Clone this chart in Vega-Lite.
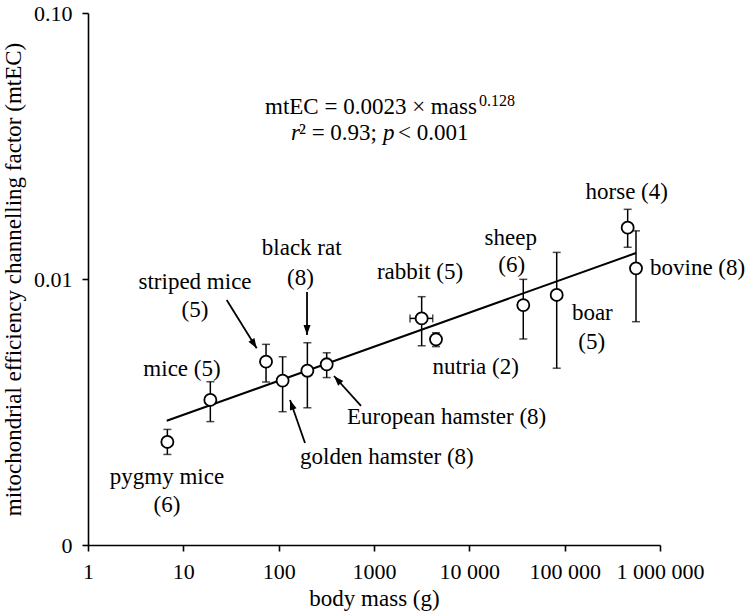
{
  "$schema": "https://vega.github.io/schema/vega-lite/v6.json",
  "width": 572,
  "height": 532,
  "autosize": {"type": "none"},
  "padding": {"left": 88, "top": 13, "right": 86, "bottom": 70},
  "background": "white",
  "config": {
    "view": {"stroke": null},
    "font": "Liberation Serif",
    "axis": {
      "grid": false,
      "domainColor": "black",
      "domainWidth": 1.6,
      "tickColor": "black",
      "tickWidth": 1.6,
      "tickSize": 6,
      "labelColor": "black",
      "labelFont": "Liberation Serif",
      "labelFontSize": 22,
      "labelPadding": 10,
      "titleColor": "black",
      "titleFont": "Liberation Serif",
      "titleFontSize": 23,
      "titleFontWeight": "normal"
    }
  },
  "datasets": {
    "species": [
      {"species": "pygmy mice", "mass": 6.8, "mtec": 0.00244, "lo": 0.00219, "hi": 0.00272},
      {"species": "mice", "mass": 19.2, "mtec": 0.00351, "lo": 0.00291, "hi": 0.00411},
      {"species": "striped mice", "mass": 73.7, "mtec": 0.00489, "lo": 0.0041, "hi": 0.00568},
      {"species": "golden hamster", "mass": 110, "mtec": 0.00415, "lo": 0.00317, "hi": 0.0051},
      {"species": "black rat", "mass": 200, "mtec": 0.00452, "lo": 0.00328, "hi": 0.00576},
      {"species": "European hamster", "mass": 319, "mtec": 0.00478, "lo": 0.00426, "hi": 0.00528},
      {"species": "rabbit", "mass": 3162, "mtec": 0.00711, "lo": 0.00561, "hi": 0.00858},
      {"species": "nutria", "mass": 4470, "mtec": 0.00593, "lo": 0.00557, "hi": 0.00628},
      {"species": "sheep", "mass": 36800, "mtec": 0.00798, "lo": 0.00595, "hi": 0.00997},
      {"species": "boar", "mass": 82500, "mtec": 0.00871, "lo": 0.00462, "hi": 0.01259},
      {"species": "horse", "mass": 458000, "mtec": 0.01559, "lo": 0.01316, "hi": 0.01828},
      {"species": "bovine", "mass": 560000, "mtec": 0.01097, "lo": 0.00691, "hi": 0.01517}
    ],
    "hbar": [
      {"species": "rabbit", "mass_lo": 2387, "mass_hi": 4130, "mtec": 0.00711}
    ],
    "fit": [
      {"mass": 6.7, "mtec": 0.00293},
      {"mass": 560000, "mtec": 0.01252}
    ],
    "arrows": [
      {"name": "striped mice", "x1": 28.5, "y1": 0.00834, "x2": 58.84, "y2": 0.005489},
      {"name": "black rat", "x1": 198.3, "y1": 0.008934, "x2": 198.3, "y2": 0.006161},
      {"name": "European hamster", "x1": 730.6, "y1": 0.003332, "x2": 380.6, "y2": 0.004318},
      {"name": "golden hamster", "x1": 188.9, "y1": 0.002418, "x2": 131.5, "y2": 0.003508}
    ],
    "labels_c": [
      {"label": "pygmy mice", "x": 6.74, "y": 0.001806},
      {"label": "(6)", "x": 6.74, "y": 0.001414},
      {"label": "mice (5)", "x": 9.68, "y": 0.004589},
      {"label": "striped mice", "x": 13.26, "y": 0.009768},
      {"label": "(5)", "x": 13.26, "y": 0.007679},
      {"label": "black rat", "x": 174.5, "y": 0.01304},
      {"label": "(8)", "x": 169.4, "y": 0.01006},
      {"label": "rabbit (5)", "x": 3038, "y": 0.010651},
      {"label": "nutria (2)", "x": 11660, "y": 0.004681},
      {"label": "sheep", "x": 27160, "y": 0.01422},
      {"label": "(6)", "x": 27820, "y": 0.011289},
      {"label": "boar", "x": 195000, "y": 0.00743},
      {"label": "(5)", "x": 192100, "y": 0.005812},
      {"label": "horse (4)", "x": 447600, "y": 0.02129}
    ],
    "labels_l": [
      {"label": "bovine (8)", "x": 785800, "y": 0.010967},
      {"label": "European hamster (8)", "x": 521, "y": 0.00302},
      {"label": "golden hamster (8)", "x": 167.4, "y": 0.002148}
    ],
    "eq_normal": [
      {"t": "mtEC = 0.0023 × mass", "x": 71.9, "y": 0.04432},
      {"t": "² = 0.93;", "x": 163.4, "y": 0.03539},
      {"t": "< 0.001", "x": 1785, "y": 0.03539}
    ],
    "eq_italic": [
      {"t": "r", "x": 134.6, "y": 0.03539},
      {"t": "p", "x": 1243, "y": 0.03539}
    ],
    "eq_sup": [
      {"t": "0.128", "x": 12630, "y": 0.04668}
    ]
  },
  "layer": [
    {
      "data": {"name": "species"},
      "mark": {"type": "rule", "color": "black", "strokeWidth": 1.5},
      "encoding": {
        "x": {"field": "mass", "type": "quantitative", "scale": {"type": "log", "domain": [1, 1000000], "nice": false}, "axis": {"title": "body mass (g)", "values": [1, 10, 100, 1000, 10000, 100000, 1000000], "labelExpr": "datum.value == 10000 ? '10 000' : datum.value == 100000 ? '100 000' : datum.value == 1000000 ? '1 000 000' : format(datum.value, 'd')", "titlePadding": 5, "labelFlush": false, "labelOverlap": false}},
        "y": {"field": "lo", "type": "quantitative", "scale": {"type": "log", "domain": [0.001, 0.1], "nice": false}, "axis": {"title": "mitochondrial efficiency channelling factor (mtEC)", "values": [0.001, 0.01, 0.1], "labelExpr": "datum.value < 0.005 ? '0' : datum.value < 0.05 ? '0.01' : '0.10'", "titlePadding": 8, "labelFlush": false, "labelOverlap": false}},
        "y2": {"field": "hi"}
      }
    },
    {
      "data": {"name": "species"},
      "mark": {"type": "tick", "orient": "horizontal", "color": "black", "size": 8, "thickness": 1.5},
      "encoding": {
        "x": {"field": "mass", "type": "quantitative"},
        "y": {"field": "lo", "type": "quantitative"}
      }
    },
    {
      "data": {"name": "species"},
      "mark": {"type": "tick", "orient": "horizontal", "color": "black", "size": 8, "thickness": 1.5},
      "encoding": {
        "x": {"field": "mass", "type": "quantitative"},
        "y": {"field": "hi", "type": "quantitative"}
      }
    },
    {
      "data": {"name": "hbar"},
      "mark": {"type": "rule", "color": "black", "strokeWidth": 1.5},
      "encoding": {
        "x": {"field": "mass_lo", "type": "quantitative"},
        "x2": {"field": "mass_hi"},
        "y": {"field": "mtec", "type": "quantitative"}
      }
    },
    {
      "data": {"name": "hbar"},
      "mark": {"type": "tick", "orient": "vertical", "color": "black", "size": 8, "thickness": 1.5},
      "encoding": {
        "x": {"field": "mass_lo", "type": "quantitative"},
        "y": {"field": "mtec", "type": "quantitative"}
      }
    },
    {
      "data": {"name": "hbar"},
      "mark": {"type": "tick", "orient": "vertical", "color": "black", "size": 8, "thickness": 1.5},
      "encoding": {
        "x": {"field": "mass_hi", "type": "quantitative"},
        "y": {"field": "mtec", "type": "quantitative"}
      }
    },
    {
      "data": {"name": "fit"},
      "mark": {"type": "line", "color": "black", "strokeWidth": 2},
      "encoding": {
        "x": {"field": "mass", "type": "quantitative"},
        "y": {"field": "mtec", "type": "quantitative"}
      }
    },
    {
      "data": {"name": "species"},
      "mark": {"type": "point", "shape": "circle", "filled": true, "fill": "white", "stroke": "black", "strokeWidth": 1.8, "size": 145, "opacity": 1},
      "encoding": {
        "x": {"field": "mass", "type": "quantitative"},
        "y": {"field": "mtec", "type": "quantitative"}
      }
    },
    {
      "data": {"name": "arrows"},
      "mark": {"type": "rule", "color": "black", "strokeWidth": 1.8},
      "encoding": {
        "x": {"field": "x1", "type": "quantitative"},
        "x2": {"field": "x2"},
        "y": {"field": "y1", "type": "quantitative"},
        "y2": {"field": "y2"}
      }
    },
    {
      "data": {"name": "arrows"},
      "transform": [{"filter": "datum.name == 'striped mice'"}],
      "mark": {"type": "point", "shape": "M0,0L0.7,2L-0.7,2Z", "filled": true, "color": "black", "opacity": 1, "size": 100, "angle": 148},
      "encoding": {
        "x": {"field": "x2", "type": "quantitative"},
        "y": {"field": "y2", "type": "quantitative"}
      }
    },
    {
      "data": {"name": "arrows"},
      "transform": [{"filter": "datum.name == 'black rat'"}],
      "mark": {"type": "point", "shape": "M0,0L0.7,2L-0.7,2Z", "filled": true, "color": "black", "opacity": 1, "size": 100, "angle": 180},
      "encoding": {
        "x": {"field": "x2", "type": "quantitative"},
        "y": {"field": "y2", "type": "quantitative"}
      }
    },
    {
      "data": {"name": "arrows"},
      "transform": [{"filter": "datum.name == 'European hamster'"}],
      "mark": {"type": "point", "shape": "M0,0L0.7,2L-0.7,2Z", "filled": true, "color": "black", "opacity": 1, "size": 100, "angle": 318},
      "encoding": {
        "x": {"field": "x2", "type": "quantitative"},
        "y": {"field": "y2", "type": "quantitative"}
      }
    },
    {
      "data": {"name": "arrows"},
      "transform": [{"filter": "datum.name == 'golden hamster'"}],
      "mark": {"type": "point", "shape": "M0,0L0.7,2L-0.7,2Z", "filled": true, "color": "black", "opacity": 1, "size": 100, "angle": 341},
      "encoding": {
        "x": {"field": "x2", "type": "quantitative"},
        "y": {"field": "y2", "type": "quantitative"}
      }
    },
    {
      "data": {"name": "labels_c"},
      "mark": {"type": "text", "font": "Liberation Serif", "fontSize": 23, "color": "black", "align": "center", "baseline": "middle"},
      "encoding": {
        "x": {"field": "x", "type": "quantitative"},
        "y": {"field": "y", "type": "quantitative"},
        "text": {"field": "label"}
      }
    },
    {
      "data": {"name": "labels_l"},
      "mark": {"type": "text", "font": "Liberation Serif", "fontSize": 23, "color": "black", "align": "left", "baseline": "middle"},
      "encoding": {
        "x": {"field": "x", "type": "quantitative"},
        "y": {"field": "y", "type": "quantitative"},
        "text": {"field": "label"}
      }
    },
    {
      "data": {"name": "eq_normal"},
      "mark": {"type": "text", "font": "Liberation Serif", "fontSize": 23, "color": "black", "align": "left", "baseline": "middle"},
      "encoding": {
        "x": {"field": "x", "type": "quantitative"},
        "y": {"field": "y", "type": "quantitative"},
        "text": {"field": "t"}
      }
    },
    {
      "data": {"name": "eq_italic"},
      "mark": {"type": "text", "font": "Liberation Serif", "fontSize": 23, "fontStyle": "italic", "color": "black", "align": "left", "baseline": "middle"},
      "encoding": {
        "x": {"field": "x", "type": "quantitative"},
        "y": {"field": "y", "type": "quantitative"},
        "text": {"field": "t"}
      }
    },
    {
      "data": {"name": "eq_sup"},
      "mark": {"type": "text", "font": "Liberation Serif", "fontSize": 16, "color": "black", "align": "left", "baseline": "middle"},
      "encoding": {
        "x": {"field": "x", "type": "quantitative"},
        "y": {"field": "y", "type": "quantitative"},
        "text": {"field": "t"}
      }
    }
  ]
}
